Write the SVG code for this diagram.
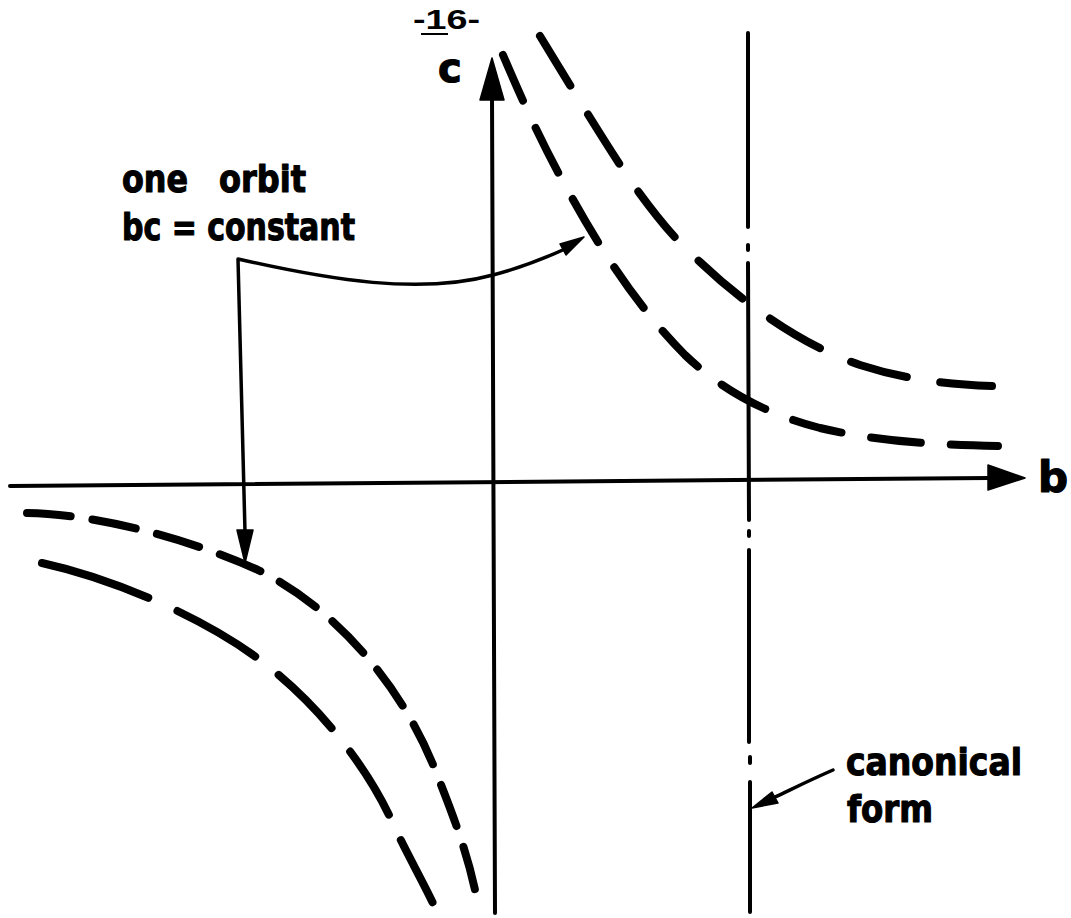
<svg xmlns="http://www.w3.org/2000/svg" width="1071" height="918" viewBox="0 0 1071 918">
<style>
.bg{fill:#fff}
.axis{stroke:#000;stroke-width:4;fill:none;stroke-linecap:round}
.conn{stroke:#000;stroke-width:3.5;fill:none;stroke-linecap:round;stroke-linejoin:round}
.dash{stroke:#000;stroke-width:8;fill:none;stroke-linecap:round}
.head{fill:#000;stroke:#000;stroke-width:1.5;stroke-linejoin:round}
.lbl{font-family:"DejaVu Sans","Liberation Sans",sans-serif;font-weight:bold;fill:#000;stroke:#000;stroke-width:1.2;stroke-linejoin:round}
.page{font-family:"Liberation Sans",sans-serif;font-weight:bold;font-size:27px;fill:#000}
</style>
<rect class="bg" x="0" y="0" width="1071" height="918"/>
<g id="page-number">
<text class="page" x="413" y="29" textLength="67" lengthAdjust="spacingAndGlyphs">-16-</text>
<line x1="421" y1="34" x2="448" y2="34" stroke="#000" stroke-width="2"/>
</g>
<g id="axes">
<line class="axis" x1="10" y1="486" x2="990" y2="478"/>
<polygon class="head" points="988,465 1025,478 988,490"/>
<line class="axis" x1="492" y1="96" x2="495" y2="913"/>
<polygon class="head" points="480,100 492,58 504,100"/>
<text class="lbl" x="438" y="82" font-size="40">c</text>
<text class="lbl" x="1038" y="492" font-size="42">b</text>
</g>
<g id="canonical-form">
<path class="axis" d="M748,33 L748,227 M748,245 L748,250 M748,263 L749,520 M749,531 L749,536 M749,550 L749,742 M750,757 L750,763 M750,782 L750,912"/>
<text class="lbl" x="846" y="775" font-size="38" textLength="176" lengthAdjust="spacingAndGlyphs">canonical</text>
<text class="lbl" x="847" y="822" font-size="38" textLength="86" lengthAdjust="spacingAndGlyphs">form</text>
</g>
<g id="orbits">
<path class="dash" d="M503,55 C520,95 540,140 565,185 C600,250 640,310 685,355 C725,393 770,415 820,428 C880,442 940,445 998,446" stroke-dasharray="50 30"/>
<path class="dash" d="M540,36 C570,85 600,135 630,180 C655,215 675,240 700,262 C740,300 800,345 860,365 C900,378 940,384 992,386" stroke-dasharray="58 34"/>
<path class="dash" d="M27,513 C90,514 180,535 258,570 C330,605 400,680 436,772 C455,820 470,860 478,905" stroke-dasharray="44 22"/>
<path class="dash" d="M42,563 C110,578 200,615 260,660 C320,705 370,770 395,828 C410,860 425,885 437,912" stroke-dasharray="112 32 90 30 75 30 74 28 70"/>
</g>
<g id="one-orbit-label">
<text class="lbl" x="122" y="192" font-size="38" textLength="66" lengthAdjust="spacingAndGlyphs">one</text>
<text class="lbl" x="219" y="192" font-size="38" textLength="87" lengthAdjust="spacingAndGlyphs">orbit</text>
<text class="lbl" x="122" y="240" font-size="38" textLength="233" lengthAdjust="spacingAndGlyphs">bc = constant</text>
</g>
<g id="connectors">
<path class="conn" d="M245,532 L238,259 C330,280 420,295 493,275 C520,268 545,258 565,249"/>
<polygon class="head" points="237,530 253,530 245,563"/>
<polygon class="head" points="566,255 584,237 560,244"/>
<path class="conn" d="M833,770 C810,780 790,790 775,797"/>
<polygon class="head" points="778,803 752,808 772,792"/>
</g>
</svg>
